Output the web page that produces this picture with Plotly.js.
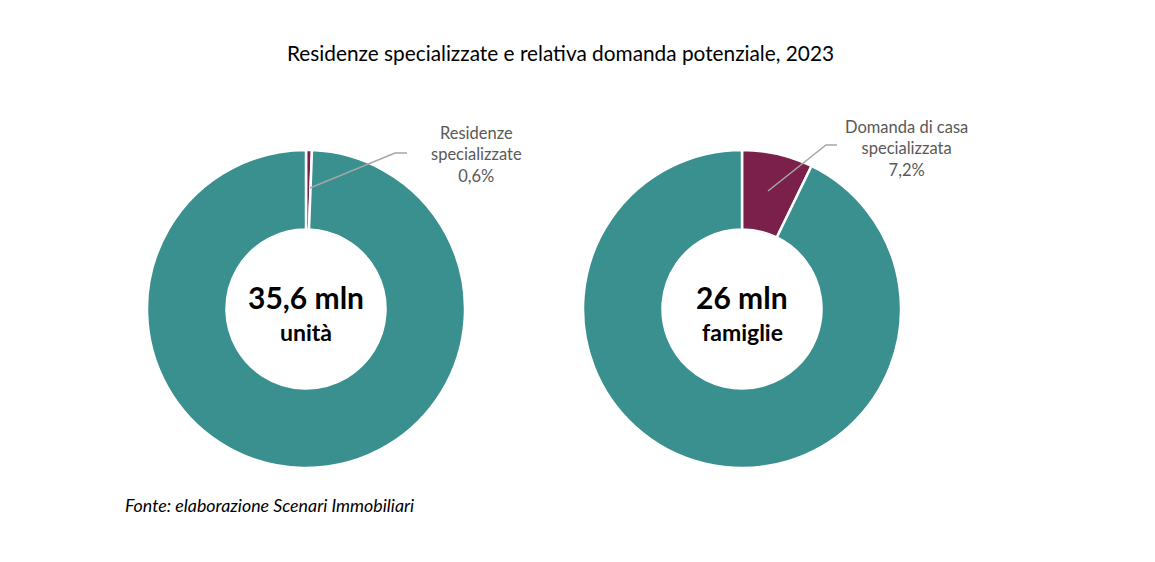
<!DOCTYPE html>
<html>
<head>
<meta charset="utf-8">
<script src="https://cdn.plot.ly/plotly-3.0.1.min.js"></script>
<style>html,body{margin:0;padding:0;background:#fff;}#chart{width:1155px;height:562px;}</style>
</head>
<body>
<div id="chart"></div>
<script>
// Data
const leftLabels = ["Residenze specializzate", "Altre abitazioni"];
const leftValues = [0.6, 99.4];
const rightLabels = ["Domanda di casa specializzata", "Altre famiglie"];
const rightValues = [7.2, 92.8];
const leftCenter = ["35,6 mln", "unità"];
const rightCenter = ["26 mln", "famiglie"];
const leftCallout = ["Residenze", "specializzate", "0,6%"];
const rightCallout = ["Domanda di casa", "specializzata", "7,2%"];
const colors = ["#7B1F4B", "#3A8F8F"];

const W = 1155, H = 562;
const px = x => x / W;
const py = y => 1 - y / H;
const FONT = "Lato, 'Open Sans', sans-serif";

const pieBase = {
  type: "pie",
  hole: 0.5,
  sort: false,
  direction: "clockwise",
  rotation: 0,
  textinfo: "none",
  hoverinfo: "label+percent",
  marker: { colors: colors, line: { color: "#ffffff", width: 2.5 } },
  showlegend: false
};

const data = [
  Object.assign({}, pieBase, {
    labels: leftLabels, values: leftValues,
    domain: { x: [px(147), px(465)], y: [py(468), py(150)] }
  }),
  Object.assign({}, pieBase, {
    labels: rightLabels, values: rightValues,
    domain: { x: [px(583), px(901)], y: [py(468), py(150)] }
  })
];

function ann(text, x, y, size, opts) {
  return Object.assign({
    text: text, x: px(x), y: py(y), xref: "paper", yref: "paper",
    showarrow: false, xanchor: "center", yanchor: "middle",
    font: { family: FONT, size: size, color: "#000" }
  }, opts || {});
}

const annotations = [
  ann("Residenze specializzate e relativa domanda potenziale, 2023", 560, 52, 20.8),
  ann(leftCenter[0], 306, 297, 30, { font: { family: FONT, size: 30, color: "#000", weight: 700 } }),
  ann(leftCenter[1], 306, 332, 23, { font: { family: FONT, size: 23, color: "#000", weight: 700 } }),
  ann(rightCenter[0], 742, 297, 30, { font: { family: FONT, size: 30, color: "#000", weight: 700 } }),
  ann(rightCenter[1], 742, 332, 23, { font: { family: FONT, size: 23, color: "#000", weight: 700 } }),
  ann(leftCallout.join("<br>"), 476, 154, 16.5, { font: { family: FONT, size: 16.5, color: "#595959" } }),
  ann(rightCallout.join("<br>"), 906, 148, 16.5, { font: { family: FONT, size: 16.5, color: "#595959" } }),
  ann("Fonte: elaborazione Scenari Immobiliari", 123, 505, 17.8, { xanchor: "left", font: { family: FONT, size: 17.8, color: "#000", style: "italic" } })
];

function path(pts) {
  return "M" + pts.map(p => px(p[0]) + "," + py(p[1])).join(" L");
}

const shapes = [
  { type: "path", xref: "paper", yref: "paper", path: path([[310, 188], [395, 153], [407, 153]]), line: { color: "#A6A6A6", width: 1.5 } },
  { type: "path", xref: "paper", yref: "paper", path: path([[768, 191], [826, 145], [837, 145]]), line: { color: "#A6A6A6", width: 1.5 } }
];

const layout = {
  width: W, height: H,
  margin: { l: 0, r: 0, t: 0, b: 0 },
  paper_bgcolor: "#fff",
  plot_bgcolor: "#fff",
  annotations: annotations,
  shapes: shapes,
  font: { family: FONT }
};

Plotly.newPlot("chart", data, layout, { displayModeBar: false, staticPlot: true });
</script>
</body>
</html>
